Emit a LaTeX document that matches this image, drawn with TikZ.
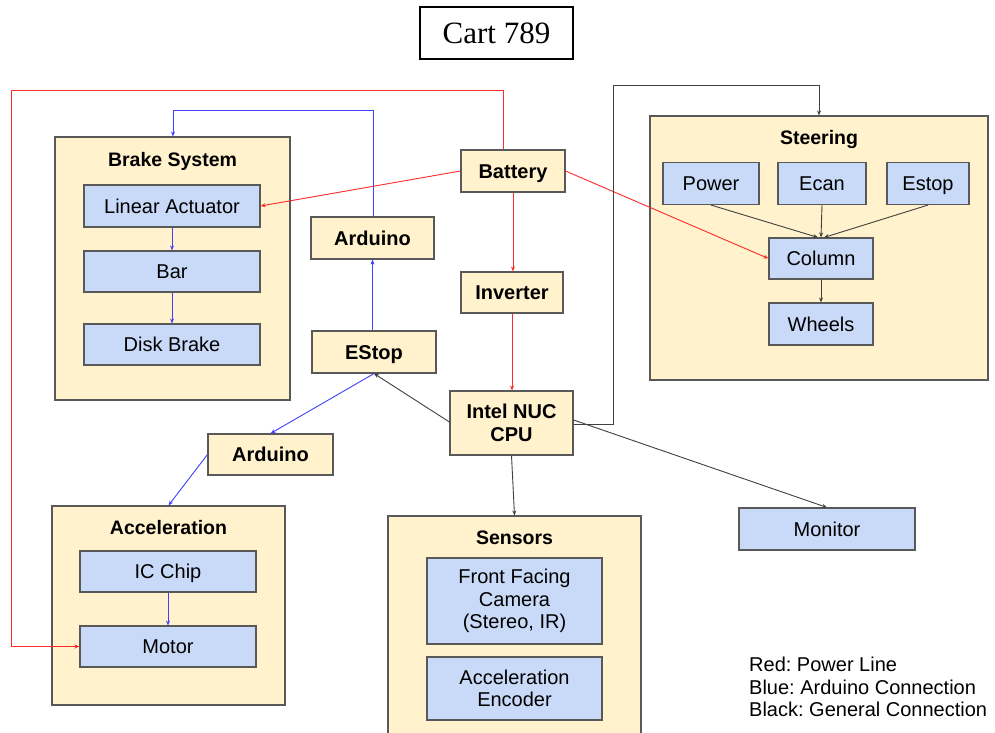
\documentclass[tikz,border=0pt]{standalone}
\usepackage{fontspec}
\setmainfont{Liberation Sans}
\newfontfamily\cartserif{Liberation Serif}
\usetikzlibrary{arrows.meta}
\frenchspacing
\definecolor{yfill}{HTML}{FFF2CC}
\definecolor{bfill}{HTML}{C9DAF8}
\definecolor{bord}{HTML}{595959}
\definecolor{pred}{HTML}{FF2A2A}
\definecolor{ablue}{HTML}{4040FF}
\definecolor{gline}{HTML}{404040}
\tikzset{
  ybox/.style={draw=bord, fill=yfill, line width=1.1pt, inner sep=0pt, align=center, font=\fontsize{20}{22.5}\selectfont\bfseries},
  bbox/.style={draw=bord, fill=bfill, line width=1.1pt, inner sep=0pt, align=center, font=\fontsize{20}{22.5}\selectfont},
  one/.style={text height=16pt, text depth=1.7pt},
  cont/.style={draw=bord, fill=yfill, line width=1.1pt, inner sep=0pt},
  ctitle/.style={one, font=\fontsize{19.5}{22}\selectfont\bfseries, inner sep=0pt},
  tip/.style={-{Stealth[length=5pt,width=4pt]}},
  pw/.style={tip, draw=pred, line width=0.9pt},
  ar/.style={tip, draw=ablue, line width=0.9pt},
  gc/.style={tip, draw=gline, line width=0.9pt},
}
\begin{document}
\begin{tikzpicture}[x=1pt,y=-1pt]
\clip (0,0) rectangle (995,732);
\fill[white] (0,0) rectangle (995,732);

% title
\node[draw=black, line width=2pt, minimum width=153pt, minimum height=52pt, inner sep=0pt,
      font=\cartserif\fontsize{31}{34}\selectfont] (cart) at (496.5,33) {Cart 789};

% Brake system
\node[cont, minimum width=235pt, minimum height=263pt] (brake) at (172.5,268.5) {};
\node[ctitle] (braket) at (172.5,159) {Brake System};
\node[bbox, one, minimum width=176pt, minimum height=42pt] (lin) at (172,206) {Linear Actuator};
\node[bbox, one, minimum width=176pt, minimum height=41pt] (bar) at (172,271.5) {Bar};
\node[bbox, one, minimum width=176pt, minimum height=41pt] (disk) at (172,344.5) {Disk Brake};

% middle column
\node[ybox, one, minimum width=123pt, minimum height=42pt] (ardtop) at (372.5,238) {Arduino};
\node[ybox, one, minimum width=124pt, minimum height=42pt] (estop) at (374,352) {EStop};
\node[ybox, one, minimum width=104pt, minimum height=42pt] (battery) at (513,171) {Battery};
\node[ybox, one, minimum width=102pt, minimum height=41pt] (inverter) at (512,292.5) {Inverter};
\node[ybox, minimum width=123pt, minimum height=64pt] (cpu) at (511.5,423) {Intel NUC\\CPU};

% Steering
\node[cont, minimum width=338pt, minimum height=264pt] (steer) at (819,248) {};
\node[ctitle] (steert) at (819,137) {Steering};
\node[bbox, one, minimum width=96pt, minimum height=42pt] (power) at (711,183.5) {Power};
\node[bbox, one, minimum width=88pt, minimum height=42pt] (ecan) at (822,183.5) {Ecan};
\node[bbox, one, minimum width=82pt, minimum height=42pt] (sestop) at (928,183.5) {Estop};
\node[bbox, one, minimum width=104pt, minimum height=41pt] (column) at (821,258.5) {Column};
\node[bbox, one, minimum width=104pt, minimum height=42pt] (wheels) at (821,324) {Wheels};

% lower left
\node[ybox, one, minimum width=125pt, minimum height=41pt] (ardlow) at (270.5,454.5) {Arduino};
\node[cont, minimum width=233pt, minimum height=199pt] (accel) at (168.5,605.5) {};
\node[ctitle] (accelt) at (168.5,527) {Acceleration};
\node[bbox, one, minimum width=176pt, minimum height=41pt] (ic) at (168,571.5) {IC Chip};
\node[bbox, one, minimum width=176pt, minimum height=41pt] (motor) at (168,646.5) {Motor};

% Sensors
\node[cont, minimum width=253pt, minimum height=229pt] (sensors) at (514.5,630.5) {};
\node[ctitle] (sensorst) at (514.5,537) {Sensors};
\node[bbox, minimum width=175pt, minimum height=86pt] (ffc) at (514.5,601) {Front Facing\\Camera\\(Stereo, IR)};
\node[bbox, minimum width=175pt, minimum height=63pt] (enc) at (514.5,688.5) {Acceleration\\Encoder};

% Monitor
\node[bbox, one, minimum width=176pt, minimum height=42pt] (monitor) at (827,529) {Monitor};

% legend
\node[anchor=north west, align=left, inner sep=0pt, font=\fontsize{20}{22.5}\selectfont] (legend) at (749,657)
  {Red: Power Line\\Blue: Arduino Connection\\Black: General Connection};

% power lines
\draw[pw] (battery.west) -- (lin.east);
\draw[pw] (battery.south) -- (inverter.north -| battery.south);
\draw[pw] (inverter.south) -- (cpu.north -| inverter.south);
\draw[pw] (battery.east) -- (column.west);
\coordinate (r1) at (503,90);
\coordinate (r2) at (11,90);
\draw[pw] (battery.north -| r1) -- (r1) -- (r2) -- (r2 |- motor.west) -- (motor.west);

% arduino lines
\draw[ar] (estop.north -| ardtop.south) -- (ardtop.south);
\coordinate (b1) at (373,110);
\coordinate (b2) at (173,110);
\draw[ar] (ardtop.north -| b1) -- (b1) -- (b2) -- (brake.north -| b2);
\draw[ar] (lin.south) -- (bar.north);
\draw[ar] (bar.south) -- (disk.north);
\draw[ar] (estop.south) -- (ardlow.north);
\draw[ar] (ardlow.west) -- (accel.north);
\draw[ar] (ic.south) -- (motor.north);

% general lines
\draw[gc] ([yshift=1pt]cpu.west) -- (estop.south);
\draw[gc] (cpu.south) -- (sensors.north);
\draw[gc] ([yshift=3pt]cpu.east) -- (monitor.north);
\coordinate (k1) at (613,85);
\draw[gc] ([yshift=-1pt]cpu.east) -- ([yshift=-1pt]cpu.east -| k1) -- (k1) -- (k1 -| steer.north) -- (steer.north);
\draw[gc] (power.south) -- ([xshift=-3pt]column.north);
\draw[gc] (ecan.south) -- (column.north);
\draw[gc] (sestop.south) -- ([xshift=3pt]column.north);
\draw[gc] (column.south) -- (wheels.north);
\end{tikzpicture}
\end{document}
